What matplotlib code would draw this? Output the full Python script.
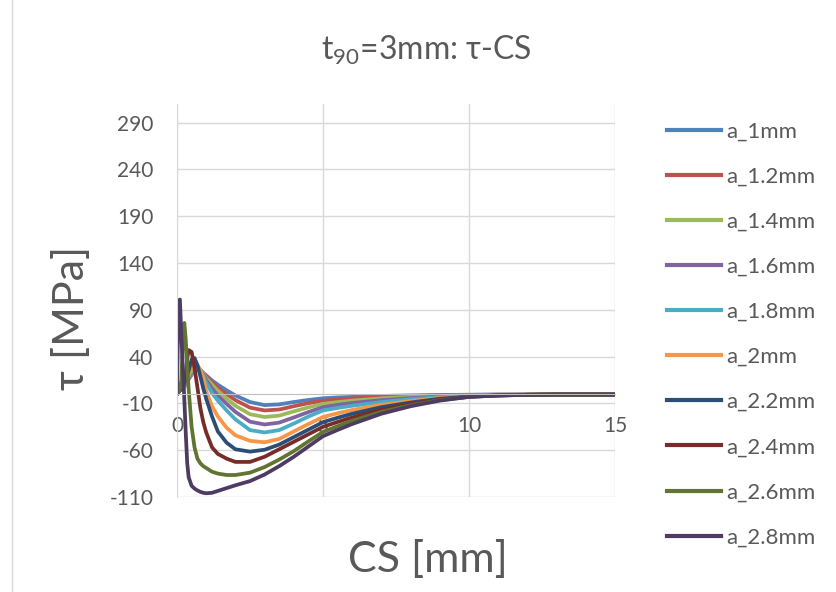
import matplotlib
matplotlib.use("Agg")
import matplotlib.pyplot as plt
from matplotlib.lines import Line2D

plt.rcParams['font.family'] = ['Lato', 'Open Sans', 'DejaVu Sans']
plt.rcParams['mathtext.fontset'] = 'custom'
plt.rcParams['mathtext.rm'] = 'Lato'
plt.rcParams['axes.unicode_minus'] = False

# Crack-surface position CS [mm]
cs = [0, 0.05, 0.1, 0.15, 0.2, 0.25, 0.3, 0.35, 0.4, 0.5, 0.6, 0.7, 0.8, 0.9, 1.0,
      1.2, 1.4, 1.7, 2.0, 2.5, 3.0, 3.5, 4.0, 4.5, 5.0, 5.5, 6.0, 7.0, 8.0, 9.0,
      10.0, 11.0, 12.0, 13.0, 15.0]

labels = ["a_1mm", "a_1.2mm", "a_1.4mm", "a_1.6mm", "a_1.8mm",
          "a_2mm", "a_2.2mm", "a_2.4mm", "a_2.6mm", "a_2.8mm"]

# Shear stress tau [MPa] for each crack length a
tau_a1_0 = [0, 2, 4, 5, 6, 8, 10, 13, 16, 21, 25, 26, 25, 22.5, 20,
            14.5, 10, 4, -1.5, -8.5, -11.8, -11, -8.5, -6.3, -4.5, -3.6, -3, -2, -1.4, -1,
            -0.7, -0.5, -0.5, -0.5, -0.5]
tau_a1_2 = [0, 2, 4, 5, 6, 8, 10, 13, 16, 21, 25, 26.5, 25.5, 22.5, 19,
            12.5, 7, 0, -6.5, -14.5, -17.5, -16.5, -13, -9.7, -7, -5.7, -4.7, -3.1, -2.1, -1.4,
            -0.9, -0.6, -0.5, -0.5, -0.5]
tau_a1_4 = [0, 2, 4, 5, 6, 8, 11, 14, 17, 22, 26, 27, 26, 22, 17,
            10, 3.5, -5, -12.5, -21.5, -24.5, -23, -18.5, -14.2, -10.5, -8.6, -7, -4.6, -3, -2,
            -1.2, -0.8, -0.6, -0.5, -0.5]
tau_a1_6 = [0, 2, 4, 5, 7, 9, 12, 15, 18, 23, 27, 28, 26, 21, 15,
            6, -1.5, -10.5, -19, -29.5, -32.5, -30.5, -25, -19.2, -14, -11.5, -9.5, -6.5, -4.3, -2.7,
            -1.6, -1, -0.6, -0.5, -0.5]
tau_a1_8 = [0, 2, 4, 5, 7, 9, 12, 16, 19, 24, 28, 29, 26, 19.5, 12,
            1, -7, -17.5, -27, -38.5, -41, -38.5, -31.5, -24, -17.5, -14.8, -12.5, -8.5, -5.5, -3.3,
            -1.8, -1.1, -0.7, -0.5, -0.5]
tau_a2_0 = [0, 2, 4, 5, 7, 10, 13, 17, 21, 27, 31, 31, 26, 17, 3,
            -13, -24, -36, -44, -50, -51.5, -48, -40, -32, -24.5, -20.5, -17, -11.5, -7.5, -4.2,
            -2.2, -1.2, -0.7, -0.5, -0.5]
tau_a2_2 = [0, 2, 4, 6, 8, 11, 15, 20, 25, 37, 38.5, 31, 19, 6, -5,
            -24, -40, -52, -59, -61.5, -59.5, -54, -46, -38, -30, -25.3, -21, -14, -9, -5,
            -2.5, -1.3, -0.8, -0.5, -0.5]
tau_a2_4 = [0, 2, 4, 6, 9, 13, 20, 38, 47, 45, 28, 7, -15, -30, -41,
            -57, -64, -69, -72.5, -72.5, -67, -59, -51, -43, -35, -29.8, -25, -16.5, -10.5, -6,
            -2.8, -1.5, -0.8, -0.5, -0.5]
tau_a2_6 = [0, 2, 6, 15, 55, 76, 58, 30, 5, -35, -57, -69, -74, -77, -79,
            -83, -85, -86.5, -86.5, -84, -78, -70, -61, -50.5, -40.5, -34.3, -28.5, -19, -12, -6.5,
            -3, -1.5, -0.8, -0.5, -0.5]
tau_a2_8 = [0, 100, 101, 62, 28, -5, -42, -74, -89, -98, -101, -103, -104.5, -105.5, -106,
            -105.5, -103.5, -100.5, -97.5, -93, -86, -77, -67, -56, -45, -38.3, -32, -21, -13, -7,
            -3, -1.5, -0.8, -0.5, -0.5]

series = [tau_a1_0, tau_a1_2, tau_a1_4, tau_a1_6, tau_a1_8,
          tau_a2_0, tau_a2_2, tau_a2_4, tau_a2_6, tau_a2_8]

colors = ["#4F81BD", "#C0504D", "#9BBB59", "#8064A2", "#4BACC6",
          "#F79646", "#2C4D75", "#772C2A", "#5F7530", "#4D3B62"]

x_ticks = [0, 5, 10, 15]
y_ticks = [-110, -60, -10, 40, 90, 140, 190, 240, 290]

W, H = 837, 592
fig = plt.figure(figsize=(W / 100, H / 100), dpi=100)
ax = fig.add_axes([177 / W, 1 - 497 / H, (615 - 177) / W, (497 - 104) / H])

for y, c, lab in zip(series, colors, labels):
    ax.plot(cs, y, color=c, lw=2.7, label=lab, solid_capstyle='round',
            solid_joinstyle='round')

ax.set_xlim(0, 15)
ax.set_ylim(-110, 310)
ax.set_xticks(x_ticks)
ax.set_yticks(y_ticks)
ax.grid(True, color="#d9d9d9", lw=1.0)
ax.set_axisbelow(True)
for s in ['top', 'right']:
    ax.spines[s].set_visible(False)
ax.spines['left'].set_color("#d9d9d9")
ax.spines['bottom'].set_position(('data', 0))
ax.spines['bottom'].set_color("#bfbfbf")
ax.tick_params(axis='both', length=0, labelsize=15, labelcolor="#595959")
ax.tick_params(axis='x', pad=16)
ax.tick_params(axis='y', pad=17)

fig.text(426 / W, 1 - 50 / H, r"t$_{\mathregular{90}}$=3mm: τ-CS", ha='center',
         va='center', fontsize=23, color="#595959")
fig.text(72 / W, 1 - 318 / H, "τ [MPa]", rotation=90, ha='center', va='center',
         fontsize=31, color="#595959")
fig.text(428 / W, 1 - 560 / H, "CS [mm]", ha='center', va='center',
         fontsize=31, color="#595959")

handles = [Line2D([0], [0], color=c, lw=3) for c in colors]
fig.legend(handles, labels, loc='upper left', bbox_to_anchor=(667 / W, 1 - 121.5 / H),
           frameon=False, fontsize=16, labelcolor="#595959", handlelength=2.43,
           handletextpad=0.23, labelspacing=1.13, borderaxespad=0, borderpad=0)

fig.add_artist(Line2D([12 / W, 12 / W], [0, 1], color="#d9d9d9", lw=1,
                      transform=fig.transFigure))

fig.savefig("out.png", dpi=100)
